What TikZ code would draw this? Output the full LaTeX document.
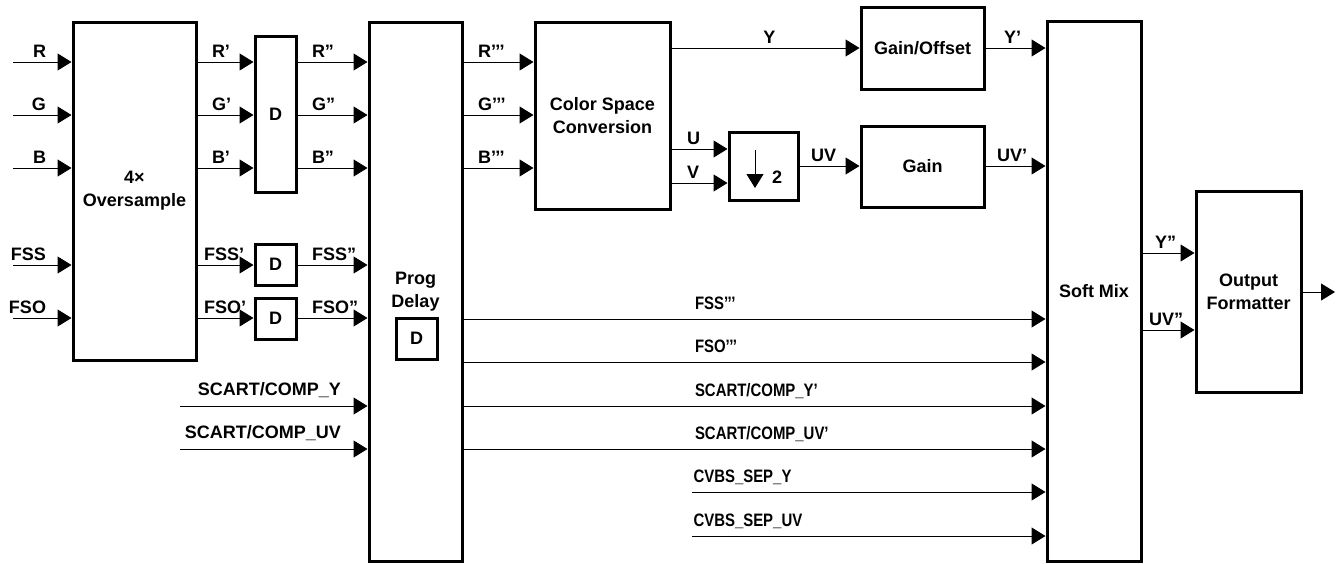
\documentclass[tikz,border=0pt]{standalone}
\usepackage{fontspec}
\setmainfont{Liberation Sans}
\newfontfamily\narrowsf[FakeStretch=0.83]{Liberation Sans}
\usetikzlibrary{arrows.meta, calc}

\begin{document}
\begin{tikzpicture}[
    x=1pt, y=-1pt,
    blk/.style={rectangle, draw, line width=3pt, align=center, inner sep=0pt, font=\fontsize{18}{23}\selectfont\bfseries},
    sig/.style={-{Triangle[length=14pt, width=17pt]}, line width=1pt},
    tag/.style={pos=0, anchor=base west, inner sep=0pt, xshift=14pt, yshift=5pt, font=\fontsize{18}{20}\selectfont\bfseries},
    intag/.style={pos=1, anchor=base east, inner sep=0pt, xshift=-25pt, yshift=5pt, font=\fontsize{18}{20}\selectfont\bfseries},
    longtag/.style={tag, xshift=217pt, yshift=5pt, font=\fontsize{18}{20}\selectfont\narrowsf\bfseries}
]
    \useasboundingbox (0,0) rectangle (1338,563);

    % Bloques
    \node[blk, minimum width=123, minimum height=338] (over) at (134.5,191) {4×\\Oversample};
    \node[blk, minimum width=41, minimum height=156] (dRGB) at (275.5,114) {D};
    \node[blk, minimum width=41, minimum height=41] (dFSS) at (275.5,264.5) {D};
    \node[blk, minimum width=41, minimum height=41] (dFSO) at (275.5,318.5) {D};
    \node[blk, minimum width=93, minimum height=539] (prog) at (415.5,291.5) {Prog\\Delay};
    \node[blk, minimum width=41, minimum height=41] (dProg) at (416.5,338.5) {D};
    \node[blk, minimum width=135, minimum height=187] (csc) at (602.5,115.5) {Color Space\\Conversion};
    \node[blk, minimum width=69, minimum height=68] (down) at (763.5,166) {};
    \node[blk, minimum width=123, minimum height=82] (gainoff) at (922.5,48) {Gain/Offset};
    \node[blk, minimum width=123, minimum height=81] (gain) at (922.5,166.5) {Gain};
    \node[blk, minimum width=94, minimum height=540] (mix) at (1094,291) {Soft Mix};
    \node[blk, minimum width=105, minimum height=201] (fmt) at (1248.5,291.5) {Output\\Formatter};

    % Diezmado por 2
    \draw[sig] ($(down.center)+(-8.5,-16)$) -- ++(0,38);
    \node[font=\fontsize{18}{20}\selectfont\bfseries] (two) at ($(down.center)+(13.5,11)$) {2};

    % Entradas RGB
    \foreach \s/\y in {R/62, G/115, B/168} {
        \coordinate (in\s) at (13,\y);
        \draw[sig] (in\s) -- node[intag]{\s} (over.west |- in\s);
        \draw[sig] (over.east |- in\s) -- node[tag]{\s’} (dRGB.west |- in\s);
        \draw[sig] (dRGB.east |- in\s) -- node[tag]{\s”} (prog.west |- in\s);
        \draw[sig] (prog.east |- in\s) -- node[tag]{\s’’’} (csc.west |- in\s);
    }

    % Sincronismos
    \foreach \s/\y in {FSS/265, FSO/318} {
        \coordinate (in\s) at (13,\y);
        \draw[sig] (in\s) -- node[intag]{\s} (over.west |- in\s);
        \draw[sig] (over.east |- in\s) -- node[tag, xshift=-8pt]{\s’} (d\s.west |- in\s);
        \draw[sig] (d\s.east |- in\s) -- node[tag]{\s”} (prog.west |- in\s);
    }

    % Entradas SCART
    \coordinate (inSY) at (180,406);
    \coordinate (inSUV) at (180,449);
    \draw[sig] (inSY) -- node[intag, xshift=-1pt, yshift=6pt]{SCART/COMP\_Y} (prog.west |- inSY);
    \draw[sig] (inSUV) -- node[intag, xshift=-1pt, yshift=6pt]{SCART/COMP\_UV} (prog.west |- inSUV);

    % Salidas del retardo
    \foreach \y/\s in {319/{FSS’’’}, 362/{FSO’’’}, 406/{SCART/COMP\_Y’}, 449/{SCART/COMP\_UV’}} {
        \coordinate (lvl) at (0,\y);
        \draw[sig] (prog.east |- lvl) -- node[longtag]{\s} (mix.west |- lvl);
    }

    % Entradas CVBS
    \coordinate (cvY) at (692,492);
    \coordinate (cvUV) at (692,536);
    \draw[sig] (cvY) -- node[longtag, xshift=-230pt]{CVBS\_SEP\_Y} (mix.west |- cvY);
    \draw[sig] (cvUV) -- node[longtag, xshift=-230pt]{CVBS\_SEP\_UV} (mix.west |- cvUV);

    % Luma y croma
    \coordinate (yY) at (0,48);
    \coordinate (yU) at (0,149);
    \coordinate (yV) at (0,183);
    \coordinate (yUV) at (0,166);
    \draw[sig] (csc.east |- yY) -- node[tag, pos=0.52, anchor=base, xshift=-14pt]{Y} (gainoff.west |- yY);
    \draw[sig] (csc.east |- yU) -- node[tag, xshift=1pt]{U} (down.west |- yU);
    \draw[sig] (csc.east |- yV) -- node[tag, xshift=1pt]{V} (down.west |- yV);
    \draw[sig] (down.east |- yUV) -- node[tag, xshift=-3pt]{UV} (gain.west |- yUV);
    \draw[sig] (gainoff.east |- yY) -- node[tag, xshift=4pt]{Y’} (mix.west |- yY);
    \draw[sig] (gain.east |- yUV) -- node[tag, xshift=-3pt]{UV’} (mix.west |- yUV);

    % Mezcla y salida
    \coordinate (yY2) at (0,253);
    \coordinate (yUV2) at (0,330);
    \coordinate (out) at (1335,292);
    \draw[sig] (mix.east |- yY2) -- node[tag, xshift=-2pt]{Y”} (fmt.west |- yY2);
    \draw[sig] (mix.east |- yUV2) -- node[tag, xshift=-8pt]{UV”} (fmt.west |- yUV2);
    \draw[sig] (fmt.east |- out) -- (out);
\end{tikzpicture}
\end{document}
